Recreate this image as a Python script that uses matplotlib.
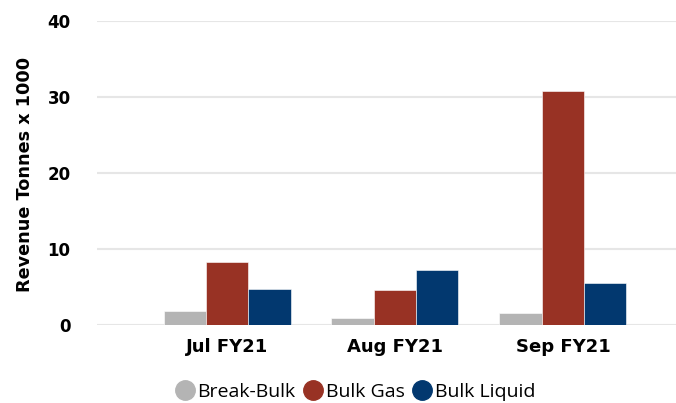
import numpy as np
import matplotlib.pyplot as plt
from matplotlib.lines import Line2D

mois = ["Jul FY21", "Aug FY21", "Sep FY21"]
series = ["Break-Bulk", "Bulk Gas", "Bulk Liquid"]
break_bulk = [1.9, 0.9, 1.55]
bulk_gas = [8.3, 4.65, 30.8]
bulk_liquid = [4.8, 7.3, 5.55]
couleurs = ["#B4B4B4", "#983224", "#02386F"]

fig = plt.figure(figsize=(6.76, 4.03), dpi=100)
ax = fig.add_axes([97 / 676, 1 - 325 / 403, (676 - 97) / 676, (325 - 21) / 403])

x = np.arange(len(mois))
largeur = 0.252
for k, (vals, c) in enumerate(zip([break_bulk, bulk_gas, bulk_liquid], couleurs)):
    ax.bar(x + (k - 1) * largeur, vals, largeur, color=c, edgecolor="white",
           linewidth=0.4, zorder=3)

ax.set_ylim(0, 40)
ax.set_xlim(-0.774, 2.673)
ax.set_yticks([0, 10, 20, 30, 40])
ax.yaxis.grid(True, color="#E6E6E6", linewidth=1.5, zorder=0)
ax.tick_params(axis="both", length=0)
ax.tick_params(axis="y", pad=19)
ax.tick_params(axis="x", pad=9)
ax.set_xticks(x)
ax.set_xticklabels(mois, fontsize=13, fontweight="bold", family="DejaVu Sans")
for t in ax.get_yticklabels():
    t.set_fontsize(12)
    t.set_fontweight("bold")
    t.set_family("DejaVu Sans")
for s in ax.spines.values():
    s.set_visible(False)

fig.text(25 / 676, 1 - 174 / 403, "Revenue Tonnes x 1000", rotation=90,
         ha="center", va="center", fontsize=12.7, fontweight="bold",
         family="DejaVu Sans")

poignees = [Line2D([], [], marker="o", linestyle="", markersize=14,
                   markerfacecolor=c, markeredgecolor=c) for c in couleurs]
fig.legend(poignees, series, loc="center", bbox_to_anchor=(354 / 676, 1 - 392 / 403),
           ncol=3, frameon=False, handletextpad=0.05, columnspacing=0.3,
           prop={"family": "Open Sans", "size": 14}, handlelength=1.2)

plt.savefig("out.png", dpi=100)
